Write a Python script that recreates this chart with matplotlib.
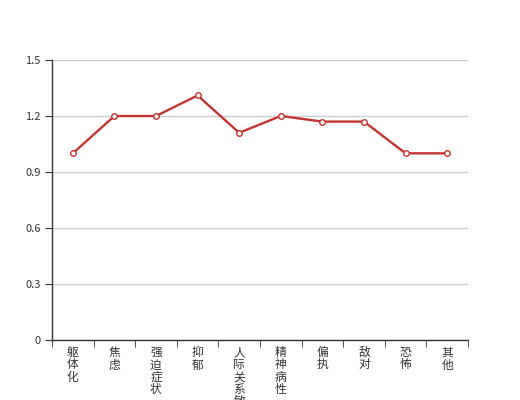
import matplotlib
matplotlib.use("Agg")
import matplotlib.pyplot as plt
import numpy as np

plt.rcParams['font.family'] = ['Noto Sans CJK SC', 'DejaVu Sans']

categories = ["躯体化", "焦虑", "强迫症状", "抑郁", "人际关系敏感", "精神病性", "偏执", "敌对", "恐怖", "其他"]
values = [1.0, 1.2, 1.2, 1.31, 1.11, 1.2, 1.17, 1.17, 1.0, 1.0]
yticks = [0, 0.3, 0.6, 0.9, 1.2, 1.5]

fig = plt.figure(figsize=(5.2, 4.0), dpi=100)
ax = fig.add_axes([0.1, 0.15, 0.8, 0.70])

x = np.arange(len(categories))
ax.plot(x, values, color='#c23531', linewidth=1.7, marker='o', markersize=4,
        markerfacecolor='white', markeredgecolor='#c23531', markeredgewidth=1, zorder=3, clip_on=False)

ax.set_xlim(-0.5, len(categories) - 0.5)
ax.set_ylim(0, 1.5)
ax.set_yticks(yticks)
ax.set_yticklabels([str(v) if v != 0 else "0" for v in yticks])
ax.yaxis.grid(True, color='#cccccc', linewidth=1)
ax.set_axisbelow(True)

ax.set_xticks(x)
ax.set_xticklabels(["\n".join(c) for c in categories], va='top', linespacing=0.92)
ax.set_xticks(np.arange(len(categories) + 1) - 0.5, minor=True)
ax.tick_params(axis='x', which='major', length=0, pad=4.5, labelsize=8.5, colors='#333333')
ax.tick_params(axis='x', which='minor', length=5, color='#333333', direction='out')
ax.tick_params(axis='y', length=5, color='#333333', labelsize=8, labelcolor='#333333', pad=3)

for s in ['top', 'right']:
    ax.spines[s].set_visible(False)
for s in ['left', 'bottom']:
    ax.spines[s].set_color('#333333')
    ax.spines[s].set_linewidth(1)

fig.savefig("out.png", dpi=100)
